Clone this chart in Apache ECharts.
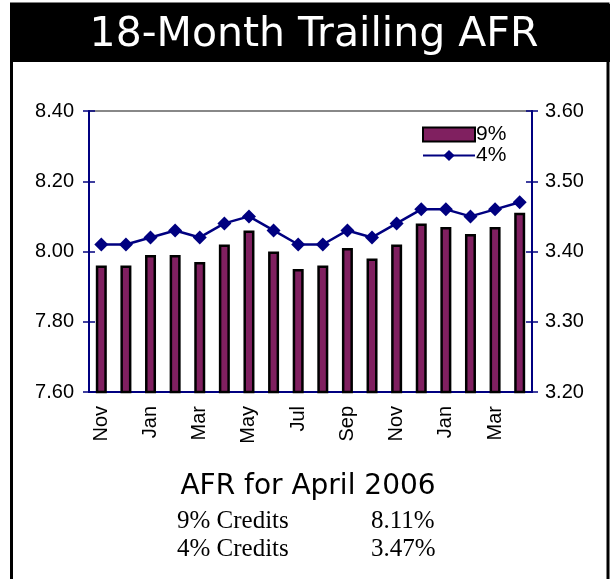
<!DOCTYPE html>
<html>
<head>
<meta charset="utf-8">
<script src="https://cdn.jsdelivr.net/npm/echarts@6/dist/echarts.min.js"></script>
<style>
  html, body { margin: 0; padding: 0; background: #fff; }
  #afrChart { width: 610px; height: 579px; }
</style>
</head>
<body>
<div id="afrChart"></div>
<script>
  // data
  const months = ['Nov', 'Dec', 'Jan', 'Feb', 'Mar', 'Apr', 'May', 'Jun', 'Jul',
                  'Aug', 'Sep', 'Oct', 'Nov', 'Dec', 'Jan', 'Feb', 'Mar', 'Apr'];
  const afr9 = [7.96, 7.96, 7.99, 7.99, 7.97, 8.02, 8.06, 8.00, 7.95,
                7.96, 8.01, 7.98, 8.02, 8.08, 8.07, 8.05, 8.07, 8.11];
  const afr4 = [3.41, 3.41, 3.42, 3.43, 3.42, 3.44, 3.45, 3.43, 3.41,
                3.41, 3.43, 3.42, 3.44, 3.46, 3.46, 3.45, 3.46, 3.47];
  const leftTicks = [7.6, 8.4, 0.2];
  const rightTicks = [3.2, 3.6, 0.1];

  const navy = '#000080';
  const lbl = { color: '#000', fontFamily: 'Liberation Sans, Arial', fontSize: 20 };
  const serif = '25px "Liberation Serif"';

  document.addEventListener("DOMContentLoaded", () => {
    echarts.init(document.querySelector("#afrChart")).setOption({
      animation: false,
      backgroundColor: '#fff',
      grid: {
        left: 89, right: 78, top: 111, bottom: 187,
        show: true, borderColor: '#888', borderWidth: 2
      },
      legend: {
        orient: 'vertical',
        left: 422, top: 124,
        padding: 0, itemGap: 0,
        itemWidth: 52, itemHeight: 14,
        textStyle: { color: '#000', fontFamily: 'Liberation Sans, Arial', fontSize: 21, padding: [0, 0, 0, -4] },
        data: [{ name: '9%', icon: 'rect' }, { name: '4%' }]
      },
      xAxis: [{
        type: 'category', data: months, position: 'bottom',
        axisLine: { lineStyle: { color: navy, width: 2 } },
        axisTick: { interval: 0, length: 6, lineStyle: { color: navy, width: 1.5 } },
        axisLabel: Object.assign({ interval: 1, rotate: 90, margin: 14 }, lbl)
      }, {
        type: 'category', data: months, position: 'bottom',
        axisLine: { show: false },
        axisTick: { interval: 0, inside: true, length: 6, lineStyle: { color: navy, width: 1.5 } },
        axisLabel: { show: false }
      }],
      yAxis: [{
        type: 'value', position: 'left',
        min: leftTicks[0], max: leftTicks[1], interval: leftTicks[2],
        splitLine: { show: false },
        axisLine: { show: true, lineStyle: { color: navy, width: 2 } },
        axisTick: { show: true, length: 6, lineStyle: { color: navy, width: 1.5 } },
        axisLabel: Object.assign({ margin: 15, formatter: v => v.toFixed(2) }, lbl)
      }, {
        type: 'value', position: 'right',
        min: rightTicks[0], max: rightTicks[1], interval: rightTicks[2],
        splitLine: { show: false },
        axisLine: { show: true, lineStyle: { color: navy, width: 2 } },
        axisTick: { show: true, length: 6, lineStyle: { color: navy, width: 1.5 } },
        axisLabel: Object.assign({ margin: 13, formatter: v => v.toFixed(2) }, lbl)
      }, {
        type: 'value', position: 'left',
        min: leftTicks[0], max: leftTicks[1], interval: leftTicks[2],
        splitLine: { show: false }, axisLine: { show: false }, axisLabel: { show: false },
        axisTick: { show: true, inside: true, length: 6, lineStyle: { color: navy, width: 1.5 } }
      }, {
        type: 'value', position: 'right',
        min: rightTicks[0], max: rightTicks[1], interval: rightTicks[2],
        splitLine: { show: false }, axisLine: { show: false }, axisLabel: { show: false },
        axisTick: { show: true, inside: true, length: 6, lineStyle: { color: navy, width: 1.5 } }
      }],
      series: [{
        name: '9%', type: 'bar', xAxisIndex: 0, yAxisIndex: 0,
        data: afr9, barWidth: 11,
        itemStyle: { color: '#802060', borderColor: '#000', borderWidth: 2.5 }
      }, {
        name: '4%', type: 'line', xAxisIndex: 0, yAxisIndex: 1,
        data: afr4, symbol: 'diamond', symbolSize: 14,
        lineStyle: { color: navy, width: 2.5 },
        itemStyle: { color: navy }
      }],
      graphic: [
        { type: 'rect', shape: { x: 10, y: 4, width: 600, height: 58 }, style: { fill: '#000' } },
        { type: 'rect', shape: { x: 11.5, y: 4, width: 596.5, height: 580 },
          style: { fill: null, stroke: '#000', lineWidth: 3 } },
        { type: 'text', x: 314, y: 35,
          style: { text: '18-Month Trailing AFR', fill: '#fff', font: '41px "DejaVu Sans"',
                   textAlign: 'center', textVerticalAlign: 'middle' } },
        { type: 'text', x: 308, y: 487,
          style: { text: 'AFR for April 2006', fill: '#000', font: '28px "DejaVu Sans"',
                   textAlign: 'center', textVerticalAlign: 'middle' } },
        { type: 'text', x: 177, y: 521,
          style: { text: '9% Credits', fill: '#000', font: serif, textVerticalAlign: 'middle' } },
        { type: 'text', x: 371, y: 521,
          style: { text: '8.11%', fill: '#000', font: serif, textVerticalAlign: 'middle' } },
        { type: 'text', x: 177, y: 549,
          style: { text: '4% Credits', fill: '#000', font: serif, textVerticalAlign: 'middle' } },
        { type: 'text', x: 371, y: 549,
          style: { text: '3.47%', fill: '#000', font: serif, textVerticalAlign: 'middle' } }
      ]
    })
  })
</script>
</body>
</html>
